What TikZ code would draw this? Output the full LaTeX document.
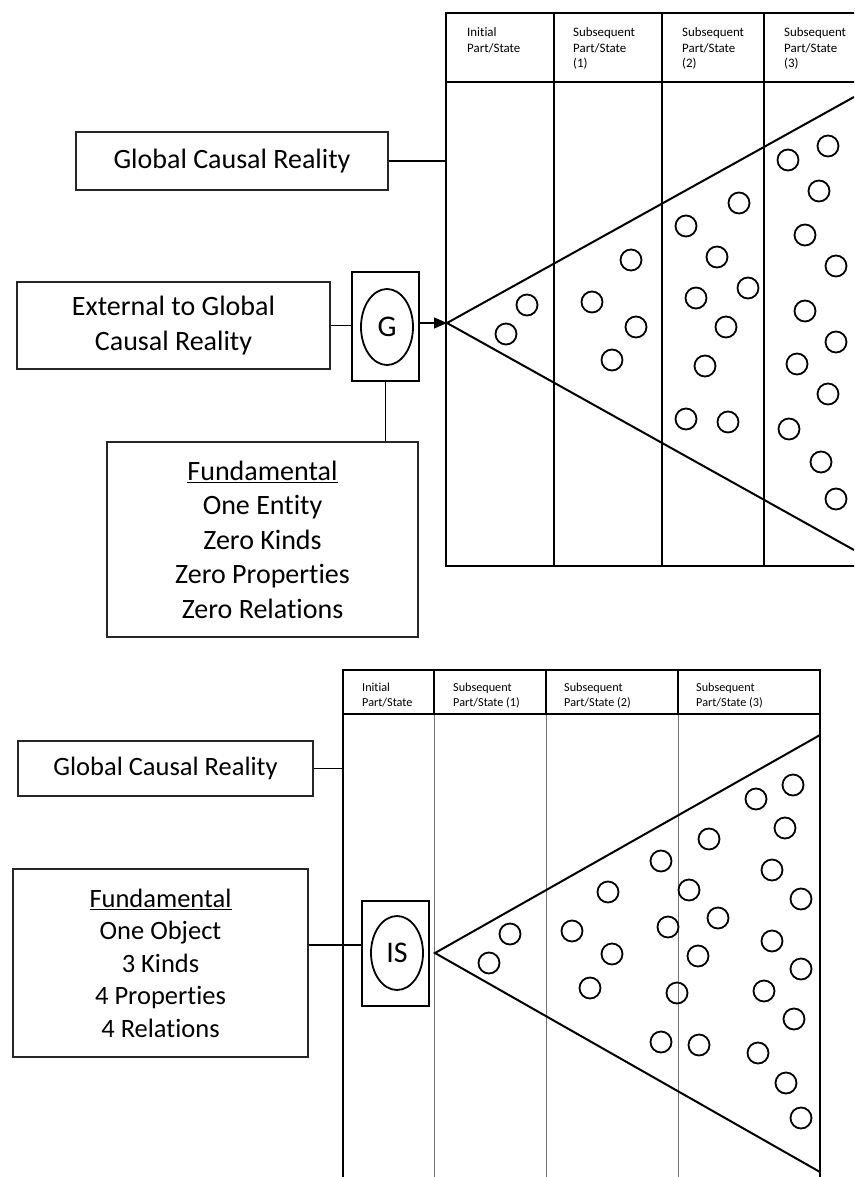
\documentclass[tikz,border=0pt]{standalone}
\usepackage{fontspec}
\setmainfont{Carlito}[Ligatures={NoCommon,NoContextual}]
\usetikzlibrary{arrows.meta,shapes.geometric,calc}
\tikzset{%
  labelbox/.style = {shape=rectangle, draw=black!85, line width=1.3pt,%
                     align=center, inner sep=0pt},%
  bigtext/.style  = {font=\fontsize{28}{34.5}\selectfont},%
  midtext/.style  = {font=\fontsize{26.5}{32.5}\selectfont},%
  headA/.style    = {anchor=north west, align=left, inner sep=0pt,%
                     font=\fontsize{12.9}{15.5}\selectfont},%
  headB/.style    = {headA, font=\fontsize{12.2}{15}\selectfont},%
  framebox/.style = {shape=rectangle, draw, line width=2pt, inner sep=0pt},%
  oval/.style     = {shape=ellipse, draw, line width=1.8pt, inner sep=0pt,%
                     minimum width=52pt, minimum height=76pt,%
                     font=\fontsize{30}{30}\selectfont},%
  outer/.style    = {line width=2pt},%
  column/.style   = {line width=1.3pt},%
  faint/.style    = {line width=1pt, draw=black!55},%
  dot/.style      = {line width=1.8pt}%
}
\begin{document}
\begin{tikzpicture}[x=1pt,y=-1pt]%
	\useasboundingbox (0,0) rectangle (854,1177);
	\clip (0,0) rectangle (854,1177);
	% upper chart
	\coordinate (apexA) at (447,323);
	\draw[column] (554,13) -- (554,566) (662,13) -- (662,566) (764,13) -- (764,566);
	\draw[outer] (870,13) -- (446,13) -- (446,566) -- (870,566);
	\draw[outer] (446,82) -- (870,82);
	\node[headA] (hA1) at (467,27.5) {Initial\\Part/State};
	\node[headA] (hA2) at (573,27.5) {Subsequent\\Part/State\\(1)};
	\node[headA] (hA3) at (682,27.5) {Subsequent\\Part/State\\(2)};
	\node[headA] (hA4) at (784,27.5) {Subsequent\\Part/State\\(3)};
	\draw[outer] (854,97) -- (apexA) -- (854,550);
	\foreach \x/\y in {527/305,506/334,592/302,631/260,636/327,612/360,%
		686/226,739/203,717/257,696/298,748/288,726/327,705/366,686/419,728/422,%
		788/160,828/146,819/191,805/235,836/266,805/311,836/342,797/364,828/394,%
		789/429,821/462,836/499}
		\draw[dot] (\x,\y) circle [radius=10.5pt];
	\node[labelbox, bigtext, minimum width=312pt, minimum height=58pt] (gcrA) at (232,161) {Global Causal Reality};
	\node[labelbox, bigtext, minimum width=313pt, minimum height=87pt] (extA) at (173.5,325.5) {External to Global\\Causal Reality};
	\node[framebox, minimum width=67pt, minimum height=109pt] (gbox) at (385.5,326.5) {};
	\node[oval] (gsym) at (387,327) {G};
	\node[labelbox, bigtext, minimum width=311pt, minimum height=195pt] (fundA) at (262.5,539.5)%
		{\underline{Fundamental}\\One Entity\\Zero Kinds\\Zero Properties\\Zero Relations};
	\draw[column] (gcrA.east) -- (gcrA.east -| apexA);
	\draw[column] (extA.east) -- (extA.east -| gbox.west);
	\draw[column, -{Triangle[length=13pt,width=11pt]}] (gbox.east |- apexA) -- (apexA);
	\draw[column] (gbox.south) -- (gbox.south |- fundA.north);
	% lower chart
	\coordinate (leftB) at (343,714);
	\coordinate (apexB) at (435,953);
	\draw[column] (343,670) rectangle (820,714);
	\draw[column] (434,670) -- (434,714) (546,670) -- (546,714) (678,670) -- (678,714);
	\draw[faint] (434,714) -- (434,1180) (546,714) -- (546,1180) (678,714) -- (678,1180);
	\draw[outer] (343,1180) -- (leftB) -- (820,714) -- (820,1180);
	\node[headB] (hB1) at (362,683) {Initial\\Part/State};
	\node[headB] (hB2) at (453,683) {Subsequent\\Part/State (1)};
	\node[headB] (hB3) at (564,683) {Subsequent\\Part/State (2)};
	\node[headB] (hB4) at (696,683) {Subsequent\\Part/State (3)};
	\draw[outer] (820,735) -- (apexB) -- (820,1172);
	\foreach \x/\y in {510/934,489/963,572/931,608/892,612/954,590/988,%
		661/861,709/839,689/890,668/927,718/918,698/956,677/993,661/1042,699/1045,%
		756/799,793/785,785/828,772/870,801/899,772/941,801/969,764/991,794/1019,%
		758/1053,786/1083,801/1118}
		\draw[dot] (\x,\y) circle [radius=10.5pt];
	\node[labelbox, midtext, minimum width=295pt, minimum height=55pt] (gcrB) at (165.5,768.5) {Global Causal Reality};
	\node[labelbox, midtext, minimum width=295pt, minimum height=188pt] (fundB) at (160.5,963)%
		{\underline{Fundamental}\\One Object\\3 Kinds\\4 Properties\\4 Relations};
	\node[framebox, minimum width=67pt, minimum height=105pt] (isbox) at (395.5,953.5) {};
	\node[oval, minimum height=74pt] (issym) at (397,953) {IS};
	\coordinate (isin) at ([yshift=8.5pt]isbox.west);
	\draw[column] (gcrB.east) -- (gcrB.east -| leftB);
	\draw[column] (fundB.east |- isin) -- (isin);
\end{tikzpicture}
\end{document}
